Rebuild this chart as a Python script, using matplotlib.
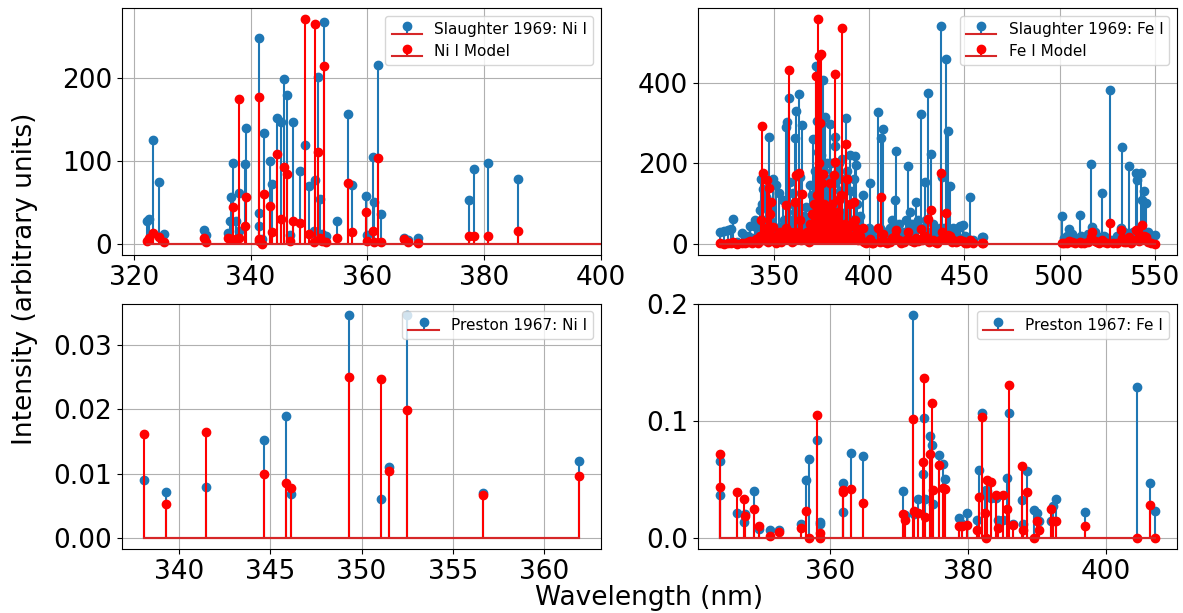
import matplotlib
matplotlib.use("Agg")
import matplotlib.pyplot as plt

# --- Slaughter 1969, Ni I (top left) ---
ni_sl_nm = [322.2, 322.6, 323.3, 324.4, 325.2, 332.1, 332.3, 336.1, 336.5, 336.6,
            337.0, 337.5, 338.0, 338.1, 339.1, 339.3, 341.4, 341.45, 341.5, 342.0,
            342.3, 343.4, 343.7, 344.6, 345.2, 345.8, 346.2, 346.7, 347.2, 348.4,
            349.3, 350.0, 350.8, 351.1, 351.5, 351.9, 352.3, 352.5, 352.9, 354.8,
            356.7, 357.3, 359.7, 360.0, 360.9, 361.2, 361.9, 362.4, 366.3, 367.0,
            368.7, 377.4, 378.3, 380.6, 385.7, 420.0]
ni_sl_obs = [27, 30, 125, 75, 12, 17, 10, 13, 27, 56,
             97, 28, 61, 16, 96, 140, 37, 21, 248, 6,
             134, 100, 72, 152, 147, 199, 180, 10, 147, 88,
             119, 70, 15, 77, 201, 54, 12, 268, 9, 27,
             156, 71, 58, 11, 105, 50, 216, 36, 7, 4,
             7, 53, 90, 98, 78, 0]
ni_sl_model = [3, 7, 13, 8, 2, 7, 2, 7, 6, 6,
               44, 6, 175, 7, 21, 57, 6, 3, 177, 0,
               60, 46, 14, 108, 30, 93, 84, 3, 28, 25,
               271, 12, 2, 265, 111, 7, 3, 215, 2, 7,
               73, 14, 38, 3, 16, 2, 104, 2, 6, 2,
               1, 9, 9, 9, 16, 0]

# --- Slaughter 1969, Fe I (top right) ---
fe_sl_nm = [321.5, 323.6, 325.9, 327.6, 328.5, 330.6, 333.4, 335.0, 336.5, 337.2,
            338.5, 339.9, 340.7, 341.5, 342.5, 343.4, 343.9, 344.2, 344.6, 345.1,
            346.0, 346.5, 346.9, 347.4, 347.7, 348.6, 349.5, 350.2, 350.8, 351.2,
            351.9, 352.6, 353.0, 353.8, 354.7, 355.5, 356.1, 356.5, 356.8, 357.9,
            358.1, 358.6, 359.4, 360.0, 360.5, 360.8, 361.2, 361.7, 362.1, 362.9,
            363.1, 363.5, 364.2, 364.9, 365.5, 366.6, 367.2, 368.2, 368.7, 369.5,
            370.0, 370.5, 370.9, 371.5, 371.9, 372.3, 372.6, 373.1, 373.5, 373.6,
            373.8, 374.2, 374.6, 374.9, 375.3, 375.7, 376.1, 376.6, 377.0, 377.5,
            378.0, 378.5, 379.0, 379.6, 380.0, 380.6, 381.3, 381.9, 382.0, 382.8,
            383.4, 384.0, 384.4, 385.0, 385.6, 385.9, 386.5, 387.2, 387.8, 388.0,
            388.6, 389.0, 389.7, 390.3, 390.8, 391.8, 392.3, 392.9, 393.5, 394.3,
            395.0, 395.7, 396.7, 397.5, 398.5, 400.0, 400.6, 401.5, 402.2, 404.6,
            405.5, 406.3, 407.2, 408.4, 409.5, 410.7, 411.9, 413.3, 414.2, 415.4,
            416.5, 418.2, 419.1, 420.3, 421.2, 422.5, 423.6, 424.7, 425.5, 427.0,
            427.8, 429.1, 429.9, 430.8, 431.5, 432.5, 433.5, 434.5, 435.5, 437.0,
            437.9, 438.5, 439.5, 440.4, 441.3, 442.6, 443.5, 444.2, 445.7, 446.8,
            447.7, 449.2, 450.5, 451.5, 452.7, 454.5, 459.0, 460.0, 501.1, 502.5,
            504.0, 505.1, 506.5, 508.0, 510.7, 511.5, 513.0, 515.0, 516.5, 517.0,
            518.5, 519.5, 520.5, 522.3, 523.5, 525.0, 526.7, 528.0, 530.0, 532.3,
            532.8, 534.0, 535.0, 536.6, 537.5, 538.5, 540.1, 540.5, 541.5, 542.8,
            543.3, 544.5, 545.4, 546.5, 548.0, 550.3]
fe_sl_obs = [29, 31, 33, 37, 61, 5, 27, 10, 20, 43,
             15, 58, 42, 20, 83, 162, 100, 135, 30, 60,
             117, 50, 25, 265, 60, 90, 162, 30, 15, 146,
             40, 125, 42, 20, 108, 60, 289, 30, 302, 362,
             100, 154, 60, 127, 40, 262, 80, 331, 90, 371,
             50, 167, 30, 296, 70, 92, 50, 30, 147, 60,
             120, 260, 80, 180, 442, 140, 304, 229, 150, 183,
             304, 120, 220, 200, 90, 408, 180, 315, 140, 100,
             200, 160, 120, 298, 200, 130, 150, 265, 243, 110,
             180, 200, 80, 130, 160, 210, 70, 140, 80, 312,
             180, 60, 221, 130, 60, 162, 217, 196, 100, 50,
             70, 40, 121, 30, 20, 40, 150, 30, 15, 327,
             40, 262, 285, 30, 15, 40, 60, 108, 231, 50,
             20, 30, 60, 194, 78, 50, 30, 104, 60, 322,
             40, 154, 60, 375, 30, 223, 50, 30, 20, 40,
             542, 167, 40, 458, 281, 143, 30, 40, 33, 40,
             45, 46, 20, 15, 115, 10, 17, 17, 69, 15,
             20, 37, 25, 15, 71, 20, 15, 25, 198, 42,
             30, 20, 15, 127, 20, 15, 382, 10, 20, 40,
             240, 30, 25, 193, 20, 30, 177, 158, 40, 175,
             108, 132, 102, 30, 15, 21]
fe_sl_model = [2, 0, 3, 2, 4, 0, 1, 2, 5, 8,
               2, 6, 12, 3, 20, 60, 292, 177, 10, 20,
               40, 158, 5, 138, 75, 104, 42, 8, 3, 20,
               10, 12, 30, 5, 20, 15, 96, 40, 20, 431,
               15, 30, 5, 8, 20, 104, 30, 171, 20, 30,
               175, 60, 10, 123, 15, 10, 30, 5, 50, 20,
               75, 50, 100, 40, 417, 80, 120, 558, 60, 467,
               200, 300, 80, 471, 150, 173, 100, 60, 40, 20,
               90, 70, 30, 150, 60, 100, 170, 423, 202, 60,
               80, 110, 30, 120, 40, 535, 20, 50, 30, 248,
               162, 40, 100, 50, 20, 104, 60, 40, 30, 10,
               20, 10, 39, 5, 3, 8, 12, 3, 2, 40,
               5, 115, 25, 5, 2, 5, 15, 20, 33, 10,
               3, 5, 10, 30, 10, 8, 5, 15, 8, 37,
               10, 20, 15, 61, 5, 83, 10, 5, 3, 10,
               175, 30, 15, 77, 23, 20, 5, 10, 5, 8,
               10, 8, 3, 2, 10, 2, 2, 3, 2, 3,
               2, 8, 5, 3, 5, 3, 2, 5, 18, 30,
               8, 5, 3, 10, 4, 2, 52, 2, 3, 33,
               15, 5, 4, 17, 3, 10, 33, 10, 8, 20,
               47, 20, 18, 5, 3, 0]

# --- Preston 1967, Ni I (bottom left) ---
ni_pr_nm = [338.09, 339.33, 341.48, 344.64, 345.85, 346.17, 349.31,
            351.04, 351.51, 352.46, 356.63, 361.91]
ni_pr_obs = [0.00906, 0.00708, 0.00792, 0.01516, 0.01904, 0.00688, 0.03467,
             0.00605, 0.01102, 0.03470, 0.00698, 0.01200]
ni_pr_model = [0.01615, 0.00533, 0.01646, 0.00998, 0.00854, 0.00776, 0.02509,
               0.02469, 0.01034, 0.01992, 0.00672, 0.00957]

# --- Preston 1967, Fe I (bottom right) ---
fe_pr_nm = [344.06, 344.10, 346.59, 347.55, 347.67, 349.06, 349.78, 351.38,
            352.62, 355.85, 356.54, 357.01, 358.12, 358.53, 358.60, 361.88,
            361.95, 363.15, 364.78, 370.56, 370.93, 371.99, 372.25, 372.76,
            373.49, 373.71, 373.83, 374.56, 374.83, 374.95, 375.82, 376.38,
            376.70, 378.79, 379.15, 379.95, 381.30, 381.58, 382.04, 382.44,
            382.59, 382.78, 383.42, 384.10, 384.33, 385.08, 385.64, 385.99,
            386.55, 387.86, 388.00, 388.63, 389.57, 389.97, 390.29, 392.03,
            392.29, 392.79, 396.93, 404.58, 406.36, 407.17]
fe_pr_obs = [0.0659, 0.0364, 0.0213, 0.0134, 0.0200, 0.0398, 0.0077, 0.0071,
             0.0071, 0.0122, 0.0497, 0.0673, 0.0833, 0.0122, 0.0133, 0.0469,
             0.0222, 0.0725, 0.0696, 0.0398, 0.0199, 0.1905, 0.0200, 0.0335,
             0.0548, 0.1023, 0.0330, 0.0867, 0.0790, 0.0293, 0.0705, 0.0631,
             0.0503, 0.0170, 0.0120, 0.0213, 0.0156, 0.0577, 0.1071, 0.0384,
             0.0410, 0.0400, 0.0340, 0.0340, 0.0150, 0.0150, 0.0512, 0.1071,
             0.0120, 0.0327, 0.0120, 0.0568, 0.0242, 0.0213, 0.0140, 0.0142,
             0.0270, 0.0335, 0.0222, 0.1287, 0.0469, 0.0233]
fe_pr_model = [0.0432, 0.0716, 0.0389, 0.0335, 0.0185, 0.0250, 0.0105, 0.0020,
               0.0048, 0.0085, 0.0233, 0.0000, 0.1051, 0.0043, 0.0000, 0.0406,
               0.0390, 0.0420, 0.0298, 0.0205, 0.0156, 0.1017, 0.0227, 0.0213,
               0.0645, 0.1364, 0.0180, 0.0719, 0.1151, 0.0412, 0.0620, 0.0426,
               0.0420, 0.0100, 0.0100, 0.0114, 0.0065, 0.0350, 0.1037, 0.0213,
               0.0000, 0.0497, 0.0475, 0.0370, 0.0085, 0.0370, 0.0247, 0.1307,
               0.0114, 0.0611, 0.0071, 0.0389, 0.0000, 0.0142, 0.0065, 0.0250,
               0.0142, 0.0142, 0.0100, 0.0000, 0.0284, 0.0000]

TICK_SIZE = 19
LABEL_SIZE = 19
LEGEND_SIZE = 11

fig = plt.figure(figsize=(11.83, 6.13), dpi=100)
ax_tl = fig.add_axes([0.1031, 0.584, 0.405, 0.403])
ax_tr = fig.add_axes([0.590, 0.584, 0.405, 0.403])
ax_bl = fig.add_axes([0.1031, 0.1044, 0.405, 0.400])
ax_br = fig.add_axes([0.590, 0.1044, 0.405, 0.400])


def draw_panel(ax, nm, obs, model, obs_label, model_label=None):
    ax.stem(nm, obs, label=obs_label)
    ax.stem(nm, model, linefmt="r-", markerfmt="ro", label=model_label)
    ax.grid(True)
    ax.tick_params(labelsize=TICK_SIZE)
    ax.legend(loc="upper right", fontsize=LEGEND_SIZE)


draw_panel(ax_tl, ni_sl_nm, ni_sl_obs, ni_sl_model,
           "Slaughter 1969: Ni I", "Ni I Model")
ax_tl.set_xlim(318, 400)
ax_tl.set_xticks([320, 340, 360, 380, 400])

draw_panel(ax_tr, fe_sl_nm, fe_sl_obs, fe_sl_model,
           "Slaughter 1969: Fe I", "Fe I Model")
ax_tr.set_xticks([350, 400, 450, 500, 550])

draw_panel(ax_bl, ni_pr_nm, ni_pr_obs, ni_pr_model, "Preston 1967: Ni I")
ax_bl.set_xticks([340, 345, 350, 355, 360])

draw_panel(ax_br, fe_pr_nm, fe_pr_obs, fe_pr_model, "Preston 1967: Fe I")
ax_br.set_xticks([360, 380, 400])
ax_br.set_yticks([0.0, 0.1, 0.2])
ax_br.set_ylim(-0.0095, 0.2)

fig.text(0.549, 0.003, "Wavelength (nm)", ha="center", va="bottom",
         fontsize=LABEL_SIZE)
fig.text(0.010, 0.545, "Intensity (arbitrary units)", ha="left",
         va="center", rotation=90, fontsize=LABEL_SIZE)

fig.savefig("out.png", dpi=100)
